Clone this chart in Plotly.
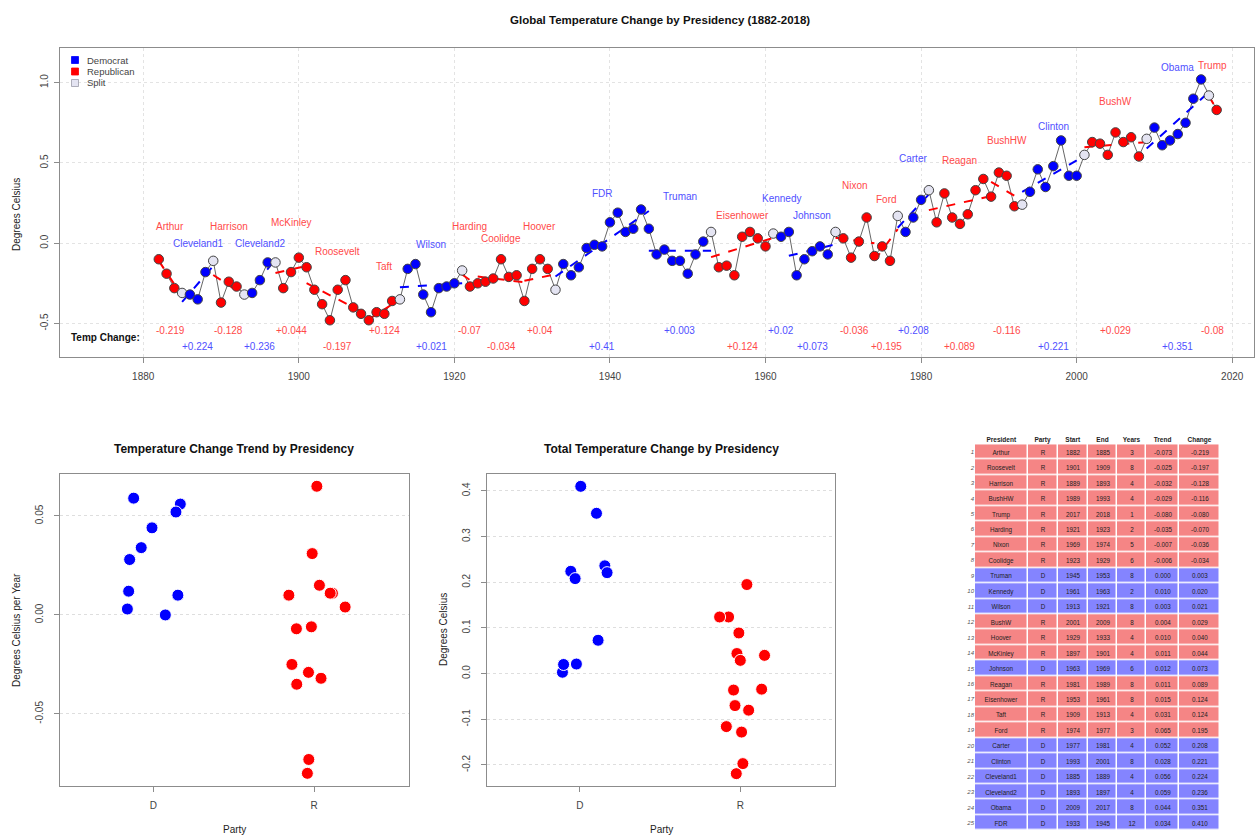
import plotly.graph_objects as go
import numpy as np

# ---------------- data ----------------
years = list(range(1882, 2019))
temps = [
    -0.10, -0.19, -0.28, -0.31, -0.32, -0.35, -0.18, -0.11,            # 1882-1889
    -0.37, -0.24, -0.27, -0.32, -0.31, -0.23, -0.12, -0.12, -0.28, -0.18,  # 1890-1899
    -0.09, -0.15, -0.29, -0.38, -0.48, -0.29, -0.23, -0.40, -0.44, -0.48,  # 1900-1909
    -0.43, -0.44, -0.36, -0.35, -0.16, -0.13, -0.32, -0.43, -0.28, -0.27,  # 1910-1919
    -0.25, -0.17, -0.27, -0.25, -0.24, -0.22, -0.10, -0.21, -0.20, -0.36,  # 1920-1929
    -0.16, -0.10, -0.16, -0.29, -0.13, -0.20, -0.15, -0.03, -0.01, -0.02,  # 1930-1939
    0.13, 0.19, 0.07, 0.09, 0.21, 0.09, -0.07, -0.04, -0.11, -0.11,        # 1940-1949
    -0.19, -0.07, 0.01, 0.07, -0.15, -0.14, -0.20, 0.04, 0.07, 0.03,       # 1950-1959
    -0.02, 0.06, 0.04, 0.07, -0.20, -0.10, -0.05, -0.02, -0.07, 0.07,      # 1960-1969
    0.03, -0.09, 0.01, 0.16, -0.08, -0.02, -0.11, 0.17, 0.07, 0.16,        # 1970-1979
    0.27, 0.33, 0.13, 0.31, 0.16, 0.12, 0.18, 0.33, 0.40, 0.29,            # 1980-1989
    0.44, 0.42, 0.23, 0.24, 0.32, 0.46, 0.35, 0.48, 0.64, 0.42,            # 1990-1999
    0.42, 0.55, 0.63, 0.62, 0.55, 0.69, 0.63, 0.66, 0.54, 0.65,            # 2000-2009
    0.72, 0.61, 0.64, 0.68, 0.75, 0.90, 1.02, 0.92, 0.83,                  # 2010-2018
]

pres_names = ["Arthur", "Cleveland1", "Harrison", "Cleveland2", "McKinley", "Roosevelt",
              "Taft", "Wilson", "Harding", "Coolidge", "Hoover", "FDR", "Truman",
              "Eisenhower", "Kennedy", "Johnson", "Nixon", "Ford", "Carter", "Reagan",
              "BushHW", "Clinton", "BushW", "Obama", "Trump"]
pres_party = ["R", "D", "R", "D", "R", "R", "R", "D", "R", "R", "R", "D", "D",
              "R", "D", "D", "R", "R", "D", "R", "R", "D", "R", "D", "R"]
pres_start = [1882, 1885, 1889, 1893, 1897, 1901, 1909, 1913, 1921, 1923, 1929, 1933, 1945,
              1953, 1961, 1963, 1969, 1974, 1977, 1981, 1989, 1993, 2001, 2009, 2017]
pres_end = [1885, 1889, 1893, 1897, 1901, 1909, 1913, 1921, 1923, 1929, 1933, 1945, 1953,
            1961, 1963, 1969, 1974, 1977, 1981, 1989, 1993, 2001, 2009, 2017, 2018]
pres_trend = [-0.073, 0.056, -0.032, 0.059, 0.011, -0.025, 0.031, 0.003, -0.035, -0.006,
              0.010, 0.034, 0.000, 0.015, 0.010, 0.012, -0.007, 0.065, 0.052, 0.011,
              -0.029, 0.028, 0.004, 0.044, -0.080]
pres_change = [-0.219, 0.224, -0.128, 0.236, 0.044, -0.197, 0.124, 0.021, -0.070, -0.034,
               0.040, 0.410, 0.003, 0.124, 0.020, 0.073, -0.036, 0.195, 0.208, 0.089,
               -0.116, 0.221, 0.029, 0.351, -0.080]

# jitter (category units) of the strip-chart points, as seen in the picture
trend_jitter = [-0.033, 0.168, 0.043, -0.122, 0.114, -0.138, -0.012, -0.161, -0.108, -0.017,
                -0.157, -0.075, 0.075, 0.033, 0.153, -0.153, -0.110, 0.017, 0.141, 0.100,
                -0.035, -0.147, 0.193, -0.008, -0.042]
change_jitter = [-0.025, -0.056, 0.008, 0.156, -0.021, 0.016, -0.073, -0.021, -0.033, 0.133,
                 0.151, 0.006, -0.108, -0.129, -0.101, 0.114, -0.042, 0.041, -0.029, -0.009,
                 -0.087, 0.170, 0.000, 0.104, 0.052]

# vertical placement of president name labels (degrees)
name_label_y = [0.106, 0.0, 0.106, 0.0, 0.13, -0.05, -0.143, -0.006, 0.106, 0.031, 0.106,
                0.31, 0.29, 0.174, 0.28, 0.174, 0.36, 0.274, 0.53, 0.516, 0.64, 0.728,
                0.883, 1.095, 1.107]

party_ticks = ["D", "R"]
table_header = ["President", "Party", "Start", "End", "Years", "Trend", "Change"]

# ---------------- styles ----------------
FONT = "Liberation Sans, Arial, sans-serif"
party_color = {"D": "#0000FF", "R": "#FF0000"}
split_color = "#E4E4F2"
label_color = {"D": "#5050FF", "R": "#FF4A4A"}
row_fill = {"D": "#8484FF", "R": "#F58585"}
table_col_widths = [52.5, 30, 30.5, 29, 29, 33, 41]
W, H = 1259, 835


def px(x):
    return x / W


def py(y):
    return 1 - y / H


def fmt_change(v):
    s = f"{v:+.3f}".rstrip("0")
    if s.endswith("."):
        s += "0"
    return s


def pann(x, y, text, size=10, color="#222222", angle=0, xanchor="center"):
    return dict(x=px(x), y=py(y), xref="paper", yref="paper", text=text, showarrow=False,
                xanchor=xanchor, yanchor="middle", textangle=angle,
                font=dict(size=size, color=color, family=FONT))


fig = go.Figure()

# ---------------- top chart ----------------
point_colors = []
for yr in years:
    parties = {p for p, s, e in zip(pres_party, pres_start, pres_end) if s <= yr <= e}
    point_colors.append(split_color if len(parties) > 1 else party_color[parties.pop()])

fig.add_trace(go.Scatter(x=years, y=temps, mode="lines",
                         line=dict(color="#666666", width=1), hoverinfo="skip",
                         xaxis="x", yaxis="y", showlegend=False))

yrs_arr = np.array(years)
tmp_arr = np.array(temps)
for party in ["D", "R"]:
    xs, ys = [], []
    for i in range(len(pres_names)):
        if pres_party[i] != party:
            continue
        s, e = pres_start[i], pres_end[i]
        m = (yrs_arr >= s) & (yrs_arr <= e)
        mx, my = yrs_arr[m].mean(), tmp_arr[m].mean()
        xs += [s, e, None]
        ys += [my + pres_trend[i] * (s - mx), my + pres_trend[i] * (e - mx), None]
    fig.add_trace(go.Scatter(x=xs, y=ys, mode="lines",
                             line=dict(color=party_color[party], width=2, dash="dash"),
                             xaxis="x", yaxis="y", showlegend=False, hoverinfo="skip"))

fig.add_trace(go.Scatter(x=years, y=temps, mode="markers",
                         marker=dict(size=9.5, color=point_colors,
                                     line=dict(color="#444444", width=1)),
                         xaxis="x", yaxis="y", showlegend=False))

annotations = []
for i, name in enumerate(pres_names):
    mid = (pres_start[i] + pres_end[i]) / 2
    annotations.append(dict(x=mid, y=name_label_y[i], xref="x", yref="y", text=name,
                            showarrow=False, xanchor="center", yanchor="middle",
                            font=dict(size=10, color=label_color[pres_party[i]], family=FONT)))
    row_y = -0.545 if i % 2 == 0 else -0.645
    annotations.append(dict(x=mid, y=row_y, xref="x", yref="y", text=fmt_change(pres_change[i]),
                            showarrow=False, xanchor="center", yanchor="middle",
                            font=dict(size=10, color=label_color[pres_party[i]], family=FONT)))

annotations.append(pann(105, 337.5, "<b>Temp Change:</b>", size=10, color="#111111"))

# legend (manual)
legend_items = [("Democrat", party_color["D"], 60), ("Republican", party_color["R"], 71.5),
                ("Split", split_color, 83)]
shapes = []
for lab, col, yy in legend_items:
    shapes.append(dict(type="rect", xref="paper", yref="paper",
                       x0=px(71.5), x1=px(78.5), y0=py(yy + 3.5), y1=py(yy - 3.5),
                       fillcolor=col, line=dict(color="#9a9aa8" if col == split_color else col, width=0.8)))
    annotations.append(pann(85, yy, lab, size=9.5, color="#444444", xanchor="left"))

# titles
annotations += [
    pann(660, 20, "<b>Global Temperature Change by Presidency (1882-2018)</b>", size=11.5, color="#111111"),
    pann(17, 215, "Degrees Celsius", angle=-90),
    pann(234, 449, "<b>Temperature Change Trend by Presidency</b>", size=12, color="#111111"),
    pann(661, 449, "<b>Total Temperature Change by Presidency</b>", size=12, color="#111111"),
    pann(16, 630, "Degrees Celsius per Year", angle=-90),
    pann(443, 630, "Degrees Celsius", angle=-90),
    pann(234, 829, "Party"),
    pann(661, 829, "Party"),
]

# ---------------- bottom strip charts ----------------
party_pos = {p: i + 1 for i, p in enumerate(party_ticks)}
for vals, jit, xa, ya in [(pres_trend, trend_jitter, "x2", "y2"),
                          (pres_change, change_jitter, "x3", "y3")]:
    for party in party_ticks:
        idx = [i for i in range(len(pres_names)) if pres_party[i] == party]
        fig.add_trace(go.Scatter(
            x=[party_pos[party] + jit[i] for i in idx], y=[vals[i] for i in idx],
            text=[pres_names[i] for i in idx], mode="markers",
            marker=dict(size=12, color=party_color[party], line=dict(color="#ffffff", width=1)),
            xaxis=xa, yaxis=ya, showlegend=False))

# ---------------- table (as a heatmap grid) ----------------
order = sorted(range(len(pres_names)), key=lambda i: (pres_change[i], pres_trend[i]))
cell_text = [[pres_names[i], pres_party[i], str(pres_start[i]), str(pres_end[i]),
              str(pres_end[i] - pres_start[i]), f"{pres_trend[i]:.3f}", f"{pres_change[i]:.3f}"]
             for i in order]
cell_z = [[0 if pres_party[i] == "D" else 1] * len(table_header) for i in order]
x_edges = [0.0]
for wdt in table_col_widths:
    x_edges.append(x_edges[-1] + wdt)
col_centers = [(a + b) / 2 for a, b in zip(x_edges[:-1], x_edges[1:])]
row_idx = list(range(len(order)))

fig.add_trace(go.Heatmap(
    z=cell_z, x=x_edges, y=row_idx, text=cell_text, texttemplate="%{text}",
    textfont=dict(size=6.3, color="#222222", family=FONT),
    colorscale=[[0, row_fill["D"]], [1, row_fill["R"]]], zmin=0, zmax=1, showscale=False,
    xgap=1.5, ygap=1.5, hoverinfo="text", xaxis="x4", yaxis="y4"))

# ---------------- layout ----------------
axbase = dict(showline=True, linecolor="#8c8c8c", linewidth=1.2, mirror=True,
              ticks="outside", ticklen=5, tickcolor="#8c8c8c", zeroline=False,
              tickfont=dict(size=10, color="#444444", family=FONT))

fig.update_layout(
    width=W, height=H, margin=dict(l=0, r=0, t=0, b=0),
    paper_bgcolor="#ffffff", plot_bgcolor="#ffffff",
    font=dict(family=FONT),
    showlegend=False,
    xaxis=dict(axbase, domain=[px(60), px(1254)], range=[1869.3, 2022.8],
               tickvals=[1880, 1900, 1920, 1940, 1960, 1980, 2000, 2020], ticklabelstandoff=5,
               showgrid=True, gridcolor="#e3e3e3", griddash="dot", gridwidth=1),
    yaxis=dict(axbase, domain=[py(357), py(47.5)], range=[-0.709, 1.219],
               tickvals=[-0.5, 0.0, 0.5, 1.0], ticktext=["-0.5", "0.0", "0.5", "1.0"],
               tickangle=-90, ticklabelstandoff=2,
               showgrid=True, gridcolor="#e3e3e3", griddash="dot", gridwidth=1),
    xaxis2=dict(axbase, domain=[px(60), px(409)], range=[0.42, 2.59], ticklabelstandoff=5,
                tickvals=[1, 2], ticktext=party_ticks, showgrid=False, anchor="y2"),
    yaxis2=dict(axbase, domain=[py(786), py(474)], range=[-0.0864, 0.0712],
                tickvals=[-0.05, 0.0, 0.05], ticktext=["-0.05", "0.00", "0.05"], tickangle=-90,
                ticklabelstandoff=7,
                showgrid=True, gridcolor="#dedede", griddash="dot", anchor="x2"),
    xaxis3=dict(axbase, domain=[px(486.7), px(835)], range=[0.42, 2.59], ticklabelstandoff=5,
                tickvals=[1, 2], ticktext=party_ticks, showgrid=False, anchor="y3"),
    yaxis3=dict(axbase, domain=[py(786), py(474)], range=[-0.246, 0.437],
                tickvals=[-0.2, -0.1, 0.0, 0.1, 0.2, 0.3, 0.4],
                ticktext=["-0.2", "-0.1", "0.0", "0.1", "0.2", "0.3", "0.4"], tickangle=-90,
                ticklabelstandoff=7,
                showgrid=True, gridcolor="#dedede", griddash="dot", anchor="x3"),
    xaxis4=dict(domain=[px(975), px(1220)], range=[x_edges[0], x_edges[-1]], side="top",
                tickvals=col_centers, ticktext=[f"<b>{h}</b>" for h in table_header],
                tickfont=dict(size=6.5, color="#222222", family=FONT), ticks="",
                showline=False, showgrid=False, zeroline=False, anchor="y4", fixedrange=True),
    yaxis4=dict(domain=[py(830.7), py(444.3)], range=[len(order) - 0.5, -0.5],
                tickvals=row_idx, ticktext=[f"<i>{k + 1}</i>" for k in row_idx],
                tickfont=dict(size=6, color="#555555", family=FONT), ticks="",
                showline=False, showgrid=False, zeroline=False, anchor="x4", fixedrange=True),
    annotations=annotations,
    shapes=shapes,
)

fig.write_html("out.html", config={"displayModeBar": False},
               post_script="document.body.style.margin='0px';")
